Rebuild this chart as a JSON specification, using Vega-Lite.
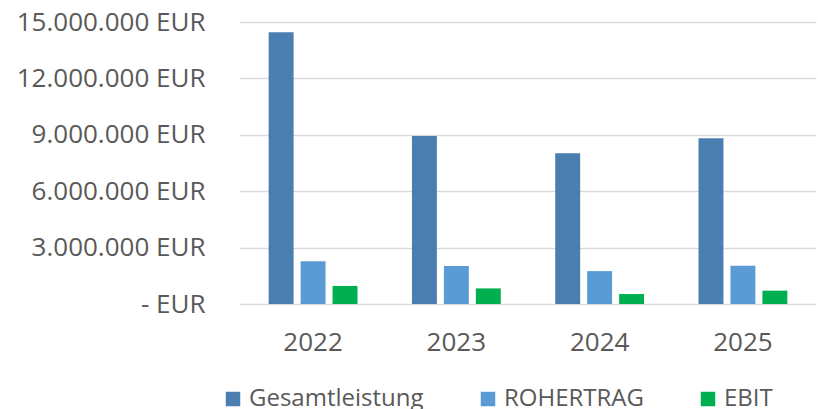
{
  "$schema": "https://vega.github.io/schema/vega-lite/v6.json",
  "width": 576,
  "height": 282,
  "autosize": "none",
  "padding": {"left": 240, "top": 22, "right": 2, "bottom": 105},
  "background": "white",
  "config": {"view": {"stroke": null}, "font": "Open Sans"},
  "data": {
    "values": [
      {"year": "2022", "series": "Gesamtleistung", "value": 14460000},
      {"year": "2022", "series": "ROHERTRAG", "value": 2270000},
      {"year": "2022", "series": "EBIT", "value": 960000},
      {"year": "2023", "series": "Gesamtleistung", "value": 8940000},
      {"year": "2023", "series": "ROHERTRAG", "value": 2020000},
      {"year": "2023", "series": "EBIT", "value": 830000},
      {"year": "2024", "series": "Gesamtleistung", "value": 8020000},
      {"year": "2024", "series": "ROHERTRAG", "value": 1750000},
      {"year": "2024", "series": "EBIT", "value": 530000},
      {"year": "2025", "series": "Gesamtleistung", "value": 8810000},
      {"year": "2025", "series": "ROHERTRAG", "value": 2030000},
      {"year": "2025", "series": "EBIT", "value": 710000}
    ]
  },
  "mark": {"type": "bar"},
  "encoding": {
    "x": {
      "field": "year", "type": "nominal",
      "scale": {"paddingInner": 0.38, "paddingOuter": 0.2},
      "axis": {"title": null, "labelAngle": 0, "domain": false, "ticks": false, "labelFontSize": 26, "labelColor": "#595959", "labelPadding": 25, "labelLimit": 0}
    },
    "xOffset": {
      "field": "series", "type": "nominal",
      "sort": ["Gesamtleistung", "ROHERTRAG", "EBIT"],
      "scale": {"paddingInner": 0.22, "paddingOuter": 0}
    },
    "y": {
      "field": "value", "type": "quantitative",
      "scale": {"domain": [0, 15000000], "nice": false},
      "axis": {
        "values": [0, 3000000, 6000000, 9000000, 12000000, 15000000],
        "title": null, "domain": false, "ticks": false,
        "gridColor": "#D9D9D9", "gridWidth": 1.3,
        "labelFontSize": 26, "labelColor": "#595959", "labelPadding": 35, "labelLimit": 0,
        "labelExpr": "datum.value == 0 ? '- EUR' : replace(replace(format(datum.value, ','), ',', '.'), ',', '.') + ' EUR'"
      }
    },
    "color": {
      "field": "series", "type": "nominal",
      "sort": ["Gesamtleistung", "ROHERTRAG", "EBIT"],
      "scale": {"domain": ["Gesamtleistung", "ROHERTRAG", "EBIT"], "range": ["#4A7EB0", "#5B9BD5", "#00B050"]},
      "legend": {
        "orient": "none", "legendX": -19, "legendY": 365, "direction": "horizontal",
        "title": null, "symbolType": "square", "symbolSize": 210, "symbolStrokeWidth": 0,
        "labelFontSize": 24, "labelColor": "#595959", "columnPadding": 52, "labelOffset": 4, "labelLimit": 0,
        "padding": 0, "offset": 0
      }
    }
  }
}
